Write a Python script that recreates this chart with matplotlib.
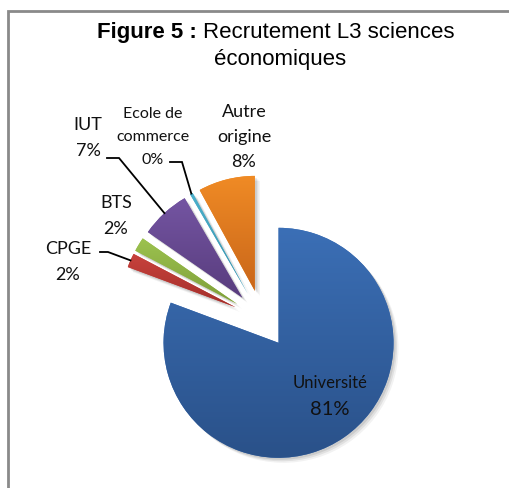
import numpy as np
import matplotlib.pyplot as plt
from matplotlib.colors import LinearSegmentedColormap
from matplotlib.patches import Rectangle

# data
categories = ["Université", "CPGE", "BTS", "IUT", "Ecole de\ncommerce", "Autre\norigine"]
values = [81, 2, 2, 7, 0.4, 8]
# gradient colours (top, bottom) per slice
top_colors = ["#3B6FB6", "#C8423D", "#9CC24F", "#7455A2", "#4BB0CC", "#F08B25"]
bottom_colors = ["#2A5189", "#A32F2B", "#7E9E3A", "#583C7D", "#3A8EA6", "#C9661A"]

W, H = 509, 489


def Y(y):
    # image row -> data y
    return H - y


fig = plt.figure(figsize=(W / 100, H / 100), dpi=100)
ax = fig.add_axes([0, 0, 1, 1])

pct = [round(v / sum(values) * 100) for v in values]

center = (262, Y(320))
radius = 115
# matplotlib explode is in data units here (pixels)
explode = [29] * len(values)

# soft shadow
for k, a in [(5, 0.05), (3.5, 0.07), (2, 0.09)]:
    ax.pie(values, startangle=90, counterclock=False, explode=explode,
           radius=radius, center=(center[0] + k, center[1] - k),
           colors=["#000000"] * len(values), wedgeprops=dict(linewidth=0, alpha=a))

wedges, _ = ax.pie(values, startangle=90, counterclock=False, explode=explode,
                   radius=radius, center=center, colors=top_colors,
                   wedgeprops=dict(linewidth=0))

# vertical gradient inside each slice
grad = np.linspace(0, 1, 256).reshape(-1, 1)
for w, ct, cb in zip(wedges, top_colors, bottom_colors):
    verts = w.get_path().vertices
    x0, x1 = verts[:, 0].min(), verts[:, 0].max()
    y0, y1 = verts[:, 1].min(), verts[:, 1].max()
    cmap = LinearSegmentedColormap.from_list("g", [cb, ct])
    im = ax.imshow(grad, extent=(x0, x1, y0, y1), origin="lower", cmap=cmap,
                   aspect="auto", zorder=w.get_zorder() + 0.1)
    im.set_clip_path(w)


def edge_point(w):
    mid = np.deg2rad((w.theta1 + w.theta2) / 2)
    cx, cy = w.center
    return cx + w.r * np.cos(mid), cy + w.r * np.sin(mid)


txt_kw = dict(family="Lato", ha="center", va="center", color="#111111")

# Université inside
ax.text(330, Y(383), categories[0], fontsize=12, **txt_kw)
ax.text(330, Y(410), f"{pct[0]}%", fontsize=14.5, **txt_kw)

# outside labels: (index, x, y, size, line spacing)
outside = [(1, 68, 262, 13, 1.7), (2, 116, 216, 13, 1.7), (3, 88, 138, 13, 1.7),
           (4, 153, 137, 11.5, 1.85), (5, 244, 137, 13, 1.7)]
for i, x, y, fs, ls in outside:
    ax.text(x, Y(y), f"{categories[i]}\n{pct[i]}%", fontsize=fs,
            linespacing=ls, **txt_kw)

# leader lines
leaders = [(1, (100, 253), (108, 253)), (3, (107, 159), (119, 159)),
           (4, (170, 163), (182, 163))]
for i, p0, p1 in leaders:
    ex, ey = edge_point(wedges[i])
    ax.plot([p0[0], p1[0], ex], [Y(p0[1]), Y(p1[1]), ey], color="black",
            lw=1.3, solid_joinstyle="miter", zorder=5)

# title
ax.text(197, Y(38), "Figure 5 :", family="Liberation Sans",
        fontsize=16, fontweight="bold", ha="right", va="baseline")
ax.text(203, Y(38), "Recrutement L3 sciences", family="Liberation Sans",
        fontsize=16, ha="left", va="baseline")
ax.text(280, Y(65), "économiques", family="Liberation Sans",
        fontsize=16, ha="center", va="baseline")

# chart frame
ax.add_patch(Rectangle((8, -20), W + 20, Y(12) + 20, fill=False,
                       edgecolor="#8a8a8a", lw=2, zorder=10))

ax.set_xlim(0, W)
ax.set_ylim(0, H)
ax.set_aspect("equal")
ax.axis("off")

fig.savefig("out.png", dpi=100)
